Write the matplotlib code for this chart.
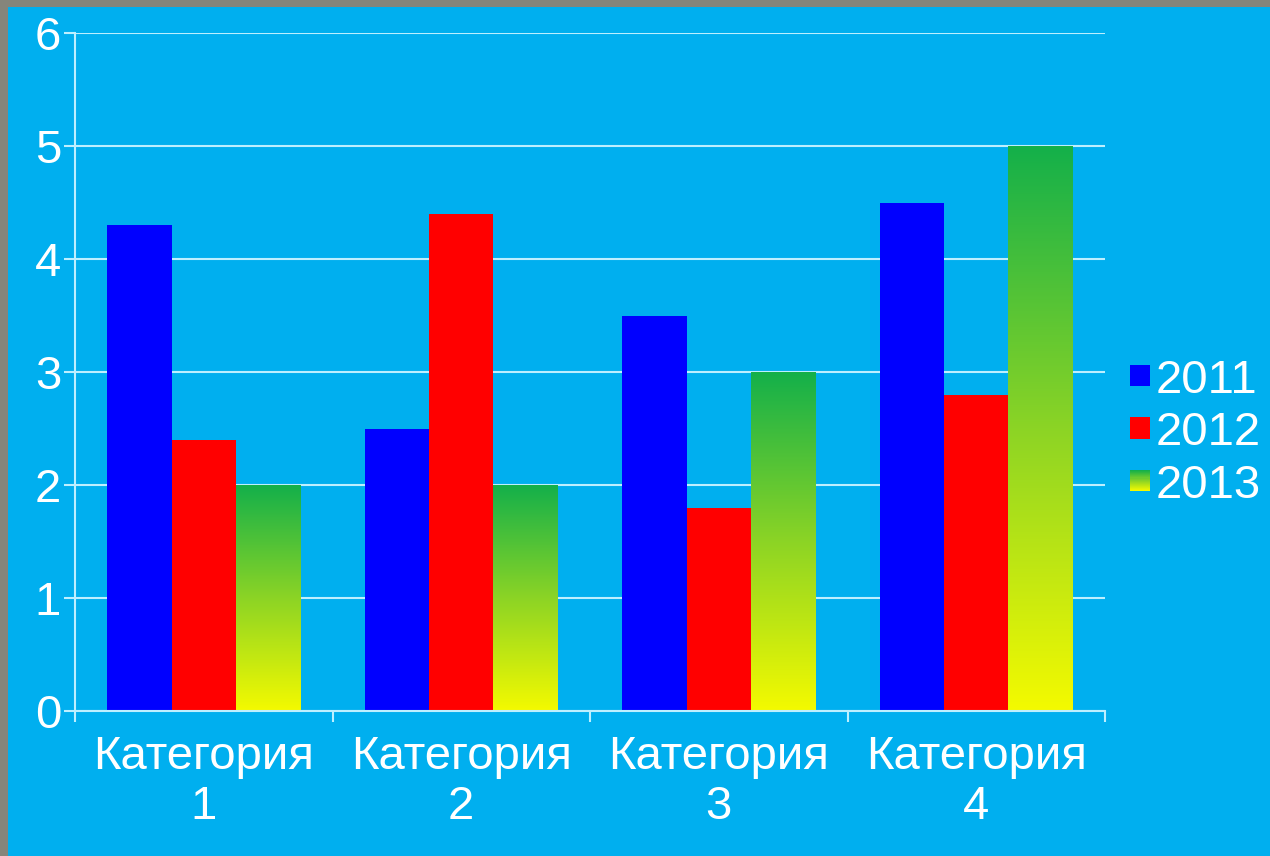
import numpy as np
import matplotlib.pyplot as plt
from matplotlib.patches import Rectangle
from matplotlib.colors import LinearSegmentedColormap
from matplotlib.legend_handler import HandlerBase

# Data
categories = ["Категория\n1", "Категория\n2", "Категория\n3", "Категория\n4"]
series_names = ["2011", "2012", "2013"]
values_2011 = [4.3, 2.5, 3.5, 4.5]
values_2012 = [2.4, 4.4, 1.8, 2.8]
values_2013 = [2.0, 2.0, 3.0, 5.0]
y_ticks = [0, 1, 2, 3, 4, 5, 6]

plt.rcParams["font.family"] = ["Liberation Sans", "DejaVu Sans"]

bg_blue = "#00AFEF"
line_col = "#BDEFFF"
grad = LinearSegmentedColormap.from_list("yg", ["#F4FA00", "#8CD425", "#14B04A"])

fig = plt.figure(figsize=(12.7, 8.56), dpi=100)
fig.patch.set_facecolor("#85857B")
fig.patches.append(Rectangle((8 / 1270, 0), 1, (856 - 7) / 856, transform=fig.transFigure,
                             facecolor=bg_blue, edgecolor="none", zorder=-5))

ax = fig.add_axes([75 / 1270, 145 / 856, 1030 / 1270, 678 / 856])
ax.set_facecolor("none")

x = np.arange(len(categories))
w = 0.25
ax.bar(x - w, values_2011, w, color="#0000FF", zorder=3, label=series_names[0])
ax.bar(x, values_2012, w, color="#FF0000", zorder=3, label=series_names[1])
bars3 = ax.bar(x + w, values_2013, w, color="#8CD425", zorder=3, label=series_names[2])

# vertical gradient in each 2013 bar (yellow bottom -> green top)
grad_img = np.linspace(0, 1, 256).reshape(-1, 1)
for b in bars3:
    x0, y0 = b.get_x(), b.get_y()
    im = ax.imshow(grad_img, cmap=grad, origin="lower", aspect="auto",
                   extent=[x0, x0 + b.get_width(), y0, y0 + b.get_height()], zorder=4)
    im.set_clip_path(b)

ax.set_xlim(-0.5, 3.5)
ax.set_ylim(0, 6)
ax.set_yticks(y_ticks)
ax.set_xticks(np.arange(-0.5, 4, 1))
ax.set_xticklabels([])
ax.set_xticks(x, minor=True)
ax.set_xticklabels(categories, minor=True, linespacing=1.2)

ax.grid(axis="y", color=line_col, linewidth=1.5, zorder=1)
for s in ["top", "right"]:
    ax.spines[s].set_visible(False)
for s in ["left", "bottom"]:
    ax.spines[s].set_color(line_col)
    ax.spines[s].set_linewidth(1.5)
    ax.spines[s].set_zorder(5)

ax.tick_params(axis="y", which="major", length=8, width=1.5, color=line_col,
               labelcolor="white", labelsize=34, pad=2)
ax.tick_params(axis="x", which="major", length=8, width=1.5, color=line_col)
ax.tick_params(axis="x", which="minor", length=0, labelcolor="white", labelsize=34, pad=17)


class GradHandler(HandlerBase):
    def create_artists(self, legend, orig_handle, xdescent, ydescent, width, height, fontsize, trans):
        n = 20
        arts = []
        for i in range(n):
            r = Rectangle((-xdescent, -ydescent + height * i / n), width, height / n + 0.3,
                          facecolor=grad(i / (n - 1)), edgecolor="none", transform=trans)
            arts.append(r)
        return arts


handles, labels = ax.get_legend_handles_labels()
leg = fig.legend(handles, labels, loc="center left", bbox_to_anchor=(1130 / 1270, 0.494),
                 frameon=False, fontsize=34, handlelength=0.42, handleheight=0.32,
                 handletextpad=0.12, labelspacing=0.18, labelcolor="white",
                 borderaxespad=0, borderpad=0,
                 handler_map={bars3: GradHandler()})

fig.savefig("out.png", dpi=100, facecolor=fig.get_facecolor())
